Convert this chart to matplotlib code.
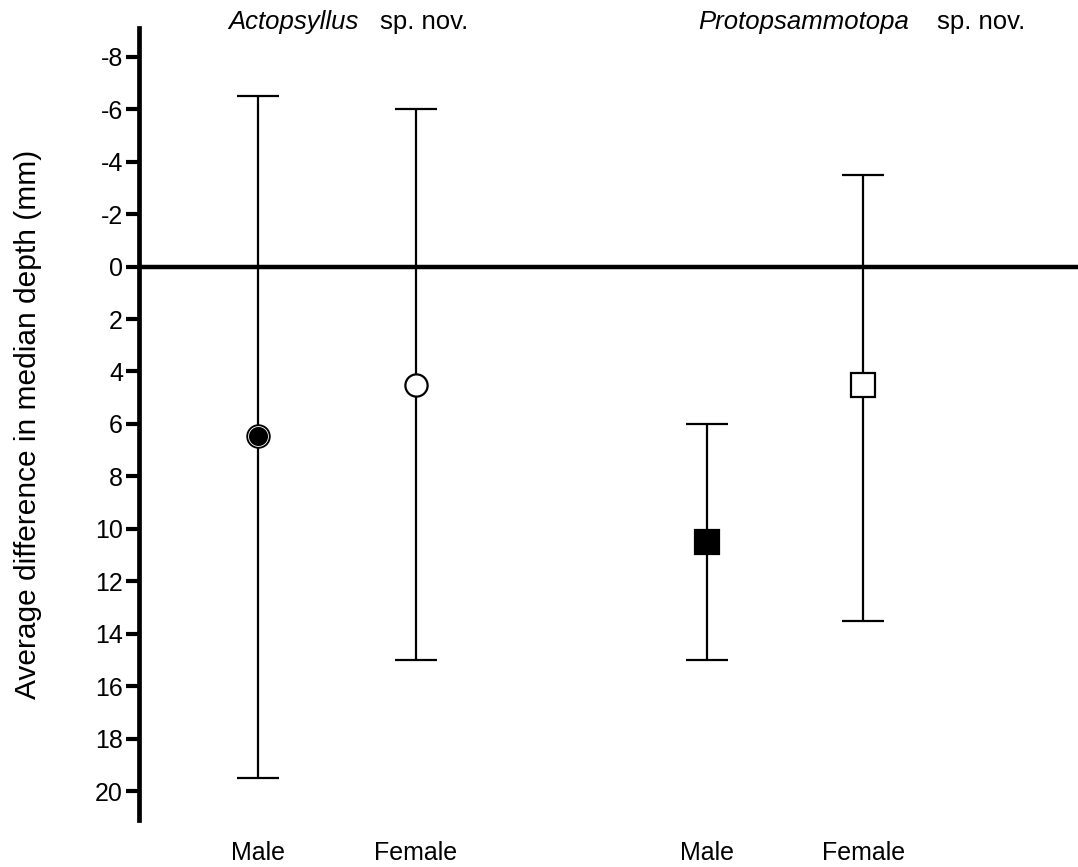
import matplotlib
matplotlib.use("Agg")
from matplotlib import pyplot as plt

plt.rcParams["font.family"] = ["Liberation Sans", "DejaVu Sans"]

# data
groups = ["Actopsyllus", "Protopsammotopa"]
sexes = ["Male", "Female", "Male", "Female"]
x_pos = [1.0, 2.0, 3.84, 4.83]
means = [6.45, 4.5, 10.5, 4.5]
lower = [-6.5, -6.0, 6.0, -3.5]   # top end of bar (axis is inverted)
upper = [19.5, 15.0, 15.0, 13.5]
markers = ["o", "o", "s", "s"]
faces = ["black", "white", "black", "white"]
yticks = list(range(-8, 21, 2))

fig = plt.figure(figsize=(10.78, 8.67), dpi=100)
ax = fig.add_axes([0.129, 0.054, 0.871, 0.914])

ax.axhline(0, color="black", lw=3.2, zorder=1)

for x, m, lo, hi, mk, fc in zip(x_pos, means, lower, upper, markers, faces):
    ax.errorbar([x], [m], yerr=[[m - lo], [hi - m]], fmt="none",
                ecolor="black", elinewidth=1.6, capsize=15, capthick=1.6, zorder=2)
    ax.plot([x], [m], marker=mk, ms=16 if mk == "o" else 17, mfc=fc, mec="black",
            mew=1.6, ls="none", zorder=3)

# thin light ring just inside the edge of the filled circle
ax.plot([x_pos[0]], [means[0]], marker="o", ms=14.3, mfc="black", mec="white",
        mew=0.6, ls="none", zorder=4)

ax.set_ylim(21.1, -9.1)
ax.set_xlim(0.247, 6.19)
ax.set_yticks(yticks)
ax.set_yticklabels([str(t) for t in yticks], fontsize=18)
ax.set_xticks(x_pos)
ax.set_xticklabels(sexes, fontsize=18)
ax.tick_params(axis="y", length=9.5, width=3, pad=2)
ax.tick_params(axis="x", length=0, pad=15)

for side in ["top", "right", "bottom"]:
    ax.spines[side].set_visible(False)
ax.spines["left"].set_linewidth(3.4)

ax.set_ylabel("Average difference in median depth (mm)", fontsize=21.5)
ax.yaxis.set_label_coords(-0.103, 0.5)

ty = 1 - 29 / 867
fig.text(228 / 1078, ty, groups[0], style="italic", fontsize=18.5, va="baseline", ha="left")
fig.text(380 / 1078, ty, "sp. nov.", fontsize=18.5, va="baseline", ha="left")
fig.text(698 / 1078, ty, groups[1], style="italic", fontsize=18.5, va="baseline", ha="left")
fig.text(937 / 1078, ty, "sp. nov.", fontsize=18.5, va="baseline", ha="left")

fig.savefig("out.png", dpi=100)
